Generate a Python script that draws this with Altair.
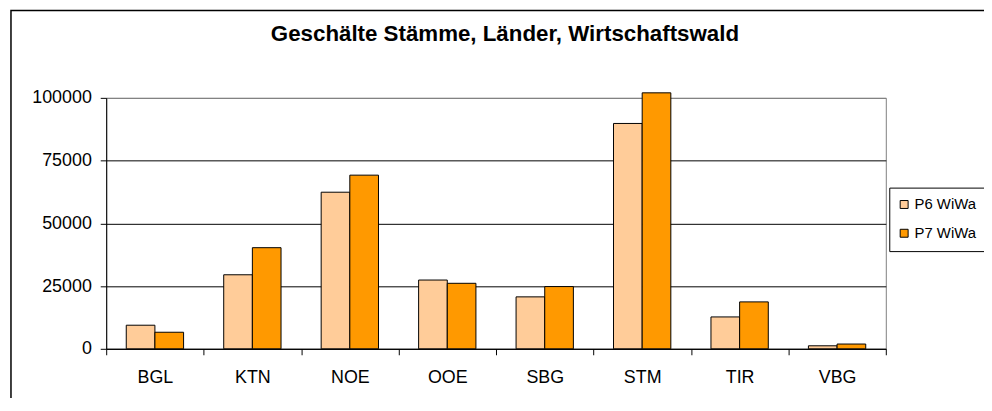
import altair as alt
import pandas as pd

# ---- data ----
laender = ["BGL", "KTN", "NOE", "OOE", "SBG", "STM", "TIR", "VBG"]
p6_wiwald = [9400, 29500, 62400, 27400, 20700, 89800, 12700, 1200]
p7_wiwald = [6600, 40300, 69200, 26100, 24800, 102000, 18700, 1900]
serien = ["P6 WiWa", "P7 WiWa"]
farben = ["#FFCC99", "#FF9900"]
y_ticks = [0, 25000, 50000, 75000, 100000]
titel = "Geschälte Stämme, Länder, Wirtschaftswald"

df = pd.DataFrame({
    "Land": laender * 2,
    "Serie": [serien[0]] * len(laender) + [serien[1]] * len(laender),
    "Wert": p6_wiwald + p7_wiwald,
})

FONT = "Liberation Sans"
W, H = 786, 253

bars = alt.Chart(df).mark_bar(stroke="black", strokeWidth=1, clip=False).encode(
    x=alt.X(
        "Land:N", sort=laender,
        scale=alt.Scale(paddingInner=0, paddingOuter=0),
        axis=alt.Axis(title=None, labelAngle=0, tickBand="extent", tickSize=6,
                      tickColor="black", domainColor="black", labelColor="black",
                      labelFontSize=18, labelFont=FONT, labelPadding=14, grid=False),
    ),
    xOffset=alt.XOffset("Serie:N", sort=serien,
                        scale=alt.Scale(paddingOuter=0.7, paddingInner=0)),
    y=alt.Y(
        "Wert:Q",
        scale=alt.Scale(domain=[0, 100000], nice=False),
        axis=alt.Axis(title=None, values=y_ticks, format="d", tickSize=6,
                      tickColor="black", domainColor="black", labelColor="black",
                      labelFontSize=18, labelFont=FONT, labelPadding=9,
                      grid=True,
                      gridColor={"condition": {"test": "datum.value === 100000", "value": "#808080"},
                                 "value": "black"}),
    ),
    color=alt.Color(
        "Serie:N", sort=serien,
        scale=alt.Scale(domain=serien, range=farben),
        legend=alt.Legend(orient="none", legendX=797, legendY=100, title=None,
                          padding=0,
                          symbolType="square", symbolSize=64,
                          symbolStrokeColor="black", symbolStrokeWidth=1,
                          symbolOpacity=1,
                          labelFontSize=15, labelFont=FONT, labelColor="black",
                          rowPadding=13, labelOffset=3),
    ),
)

# outer chart frame (decorative, extends past the right and bottom edges)
frame = alt.Chart(alt.Data(values=[{}])).mark_rect(
    fillOpacity=0, stroke="black", strokeWidth=1.5, clip=False
).encode(
    x=alt.value(-96), x2=alt.value(1000), y=alt.value(-88), y2=alt.value(400)
)

# legend box (decorative, extends past the right edge like the reference)
legend_box = alt.Chart(alt.Data(values=[{}])).mark_rect(
    fill="white", stroke="black", strokeWidth=1, clip=False
).encode(
    x=alt.value(790), x2=alt.value(1000), y=alt.value(91), y2=alt.value(155)
)

title_layer = alt.Chart(alt.Data(values=[{"t": titel}])).mark_text(
    font=FONT, fontSize=22.5, fontWeight="bold", color="black",
    align="center", baseline="middle"
).encode(text="t:N", x=alt.value(402), y=alt.value(-64))

chart = alt.layer(frame, legend_box, bars, title_layer).properties(
    width=W, height=H,
    padding={"left": 99, "top": 89, "right": 99, "bottom": 48},
    autosize=alt.AutoSizeParams(type="none"),
    background="white",
).configure_view(stroke="#808080", strokeWidth=1)

chart.save("out.html", embed_options={"renderer": "svg", "actions": False})
